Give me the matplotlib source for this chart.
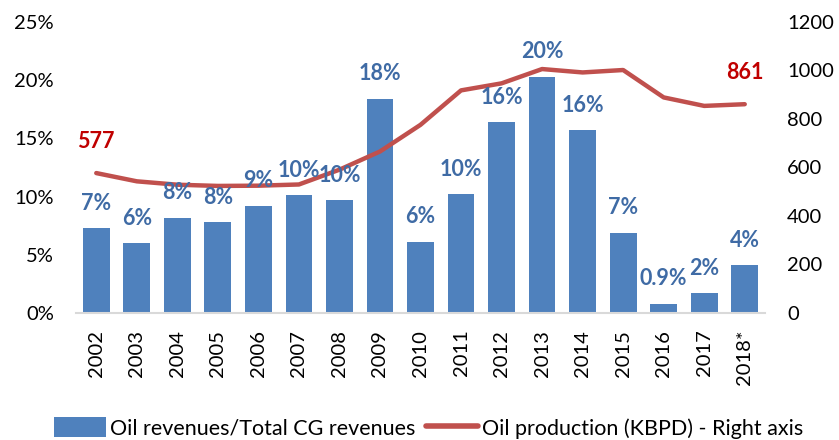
"""Oil revenues share vs oil production, 2002-2018."""
import matplotlib
matplotlib.use("Agg")
import matplotlib.pyplot as plt
import numpy as np
from matplotlib.patches import Patch
from matplotlib.lines import Line2D

years = ["2002", "2003", "2004", "2005", "2006", "2007", "2008", "2009", "2010",
         "2011", "2012", "2013", "2014", "2015", "2016", "2017", "2018*"]
oil_share = [7.3, 6.0, 8.2, 7.8, 9.2, 10.1, 9.7, 18.4, 6.1,
             10.2, 16.4, 20.3, 15.7, 6.9, 0.8, 1.7, 4.1]
share_labels = ["7%", "6%", "8%", "8%", "9%", "10%", "10%", "18%", "6%",
                "10%", "16%", "20%", "16%", "7%", "0.9%", "2%", "4%"]
production = [577, 543, 529, 524, 525, 530, 591, 666, 776,
              918, 947, 1006, 992, 1002, 889, 854, 861]

plt.rcParams["font.family"] = ["Lato", "DejaVu Sans"]

bar_color = "#4F81BD"
line_color = "#C0504D"
bar_text = "#3F6BA5"
line_text = "#C00000"

fig = plt.figure(figsize=(8.39, 4.40), dpi=100)
ax = fig.add_axes([76 / 839, 1 - 313 / 440, (765 - 76) / 839, (313 - 22) / 440])
ax2 = ax.twinx()

x = np.arange(len(years))
ax.bar(x, oil_share, width=0.66, color=bar_color, zorder=2)
ax.set_xlim(-0.5, len(years) - 0.5)
ax.set_ylim(0, 25)
ax.set_yticks([0, 5, 10, 15, 20, 25])
ax.set_yticklabels([f"{v}%" for v in range(0, 30, 5)])
ax.set_xticks(x)
ax.set_xticklabels(years, rotation=90)
ax.tick_params(axis="y", length=0, pad=16, labelsize=14.5)
ax.tick_params(axis="x", length=0, pad=12, labelsize=14.5)

ax2.plot(x, production, color=line_color, lw=3.2, solid_capstyle="round", zorder=3)
ax2.set_ylim(0, 1200)
ax2.set_yticks(range(0, 1400, 200))
ax2.tick_params(axis="y", length=0, pad=16, labelsize=14.5)

for a in (ax, ax2):
    for side in ("top", "left", "right"):
        a.spines[side].set_visible(False)
ax2.spines["bottom"].set_visible(False)
ax.spines["bottom"].set_color("#D9D9D9")
ax.spines["bottom"].set_linewidth(1.5)

for xi, v, lab in zip(x, oil_share, share_labels):
    ax2.annotate(lab, (xi, v * 48), xytext=(0, 18), textcoords="offset points",
                 ha="center", va="center", fontsize=15.5, fontweight="bold",
                 color=bar_text, zorder=5)

for i in (0, len(years) - 1):
    ax2.annotate(str(production[i]), (x[i], production[i]), xytext=(0, 23),
                 textcoords="offset points", ha="center", va="center",
                 fontsize=15.5, fontweight="bold", color=line_text)

handles = [Patch(facecolor=bar_color, edgecolor="none"),
           Line2D([0], [0], color=line_color, lw=4, solid_capstyle="round")]
fig.legend(handles, ["Oil revenues/Total CG revenues", "Oil production (KBPD) - Right axis"],
           loc="center", bbox_to_anchor=(429 / 839, 1 - 428 / 440), ncol=2,
           frameon=False, fontsize=15.5, handlelength=2.4, handleheight=1.0,
           handletextpad=0.2, columnspacing=0.5)

fig.savefig("out.png", dpi=100)
